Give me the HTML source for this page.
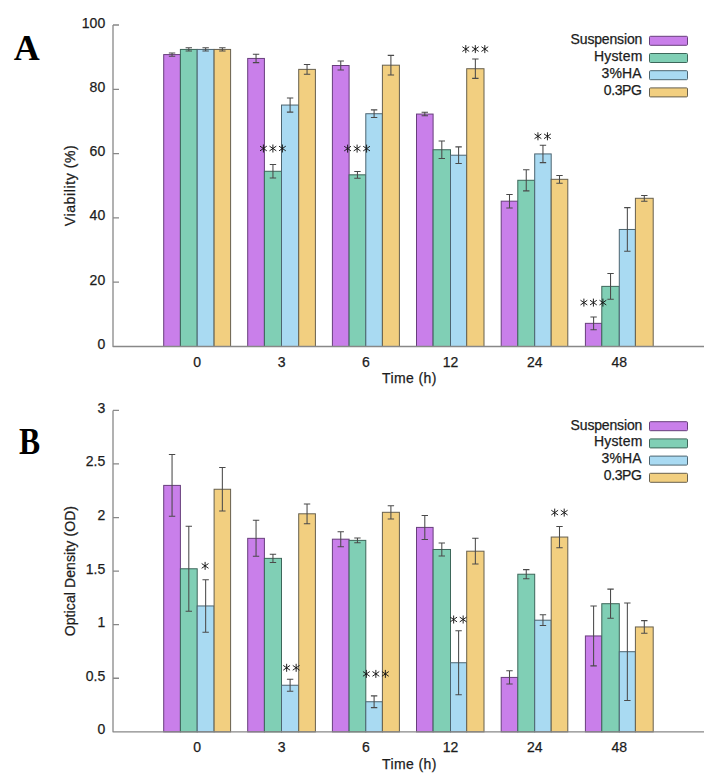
<!DOCTYPE html>
<html><head><meta charset="utf-8"><style>
html,body{margin:0;padding:0;background:#fff;}
svg{display:block;}
.t{font-family:"Liberation Sans",sans-serif;font-size:14px;fill:#1c1c1c;stroke:#1c1c1c;stroke-width:0.25px;}
.L{font-family:"Liberation Serif",serif;font-weight:bold;font-size:36px;fill:#000;}
</style></head><body>
<svg width="719" height="783" viewBox="0 0 719 783">
<rect width="719" height="783" fill="#fff"/>
<rect x="163.7" y="54.58" width="16.7" height="291.92" fill="#c97fea" stroke="#683f7c" stroke-width="1"/>
<rect x="180.4" y="49.43" width="16.8" height="297.07" fill="#80cfb5" stroke="#3d675a" stroke-width="1"/>
<rect x="197.2" y="49.43" width="16.9" height="297.07" fill="#a9daf2" stroke="#4d6571" stroke-width="1"/>
<rect x="214.1" y="49.43" width="16.5" height="297.07" fill="#f2cf80" stroke="#67604e" stroke-width="1"/>
<rect x="247.7" y="58.44" width="16.7" height="288.06" fill="#c97fea" stroke="#683f7c" stroke-width="1"/>
<rect x="264.4" y="171.28" width="17.1" height="175.22" fill="#80cfb5" stroke="#3d675a" stroke-width="1"/>
<rect x="281.5" y="105.05" width="17.2" height="241.45" fill="#a9daf2" stroke="#4d6571" stroke-width="1"/>
<rect x="298.7" y="69.37" width="16.7" height="277.13" fill="#f2cf80" stroke="#67604e" stroke-width="1"/>
<rect x="332.4" y="65.51" width="16.7" height="280.99" fill="#c97fea" stroke="#683f7c" stroke-width="1"/>
<rect x="349.1" y="174.82" width="16.7" height="171.68" fill="#80cfb5" stroke="#3d675a" stroke-width="1"/>
<rect x="365.8" y="113.73" width="16.6" height="232.77" fill="#a9daf2" stroke="#4d6571" stroke-width="1"/>
<rect x="382.4" y="65.19" width="17" height="281.31" fill="#f2cf80" stroke="#67604e" stroke-width="1"/>
<rect x="416.5" y="114.06" width="16.6" height="232.44" fill="#c97fea" stroke="#683f7c" stroke-width="1"/>
<rect x="433.1" y="149.74" width="17.4" height="196.76" fill="#80cfb5" stroke="#3d675a" stroke-width="1"/>
<rect x="450.5" y="155.21" width="16.2" height="191.29" fill="#a9daf2" stroke="#4d6571" stroke-width="1"/>
<rect x="466.7" y="68.72" width="17.3" height="277.78" fill="#f2cf80" stroke="#67604e" stroke-width="1"/>
<rect x="501.2" y="201.18" width="16.6" height="145.32" fill="#c97fea" stroke="#683f7c" stroke-width="1"/>
<rect x="517.8" y="180.28" width="16.9" height="166.22" fill="#80cfb5" stroke="#3d675a" stroke-width="1"/>
<rect x="534.7" y="153.92" width="16.5" height="192.58" fill="#a9daf2" stroke="#4d6571" stroke-width="1"/>
<rect x="551.2" y="179.32" width="16.6" height="167.18" fill="#f2cf80" stroke="#67604e" stroke-width="1"/>
<rect x="585.4" y="323.35" width="16.4" height="23.15" fill="#c97fea" stroke="#683f7c" stroke-width="1"/>
<rect x="601.8" y="286.38" width="17.5" height="60.12" fill="#80cfb5" stroke="#3d675a" stroke-width="1"/>
<rect x="619.3" y="229.47" width="16.1" height="117.03" fill="#a9daf2" stroke="#4d6571" stroke-width="1"/>
<rect x="635.4" y="198.29" width="17.8" height="148.21" fill="#f2cf80" stroke="#67604e" stroke-width="1"/>
<path d="M172.05 52.97V56.19M168.85 52.97H175.25M168.85 56.19H175.25M188.8 47.83V51.04M185.6 47.83H192M185.6 51.04H192M205.65 47.83V51.04M202.45 47.83H208.85M202.45 51.04H208.85M222.35 47.83V51.04M219.15 47.83H225.55M219.15 51.04H225.55M256.05 54.26V62.62M252.85 54.26H259.25M252.85 62.62H259.25M272.95 164.53V178.03M269.75 164.53H276.15M269.75 178.03H276.15M290.1 97.98V112.13M286.9 97.98H293.3M286.9 112.13H293.3M307.05 64.54V74.19M303.85 64.54H310.25M303.85 74.19H310.25M340.75 61.01V70.01M337.55 61.01H343.95M337.55 70.01H343.95M357.45 171.44V178.19M354.25 171.44H360.65M354.25 178.19H360.65M374.1 109.88V117.59M370.9 109.88H377.3M370.9 117.59H377.3M390.9 55.38V74.99M387.7 55.38H394.1M387.7 74.99H394.1M424.8 112.29V115.82M421.6 112.29H428M421.6 115.82H428M441.8 141.06V158.42M438.6 141.06H445M438.6 158.42H445M458.6 146.85V163.57M455.4 146.85H461.8M455.4 163.57H461.8M475.35 59.08V78.37M472.15 59.08H478.55M472.15 78.37H478.55M509.5 194.43V207.93M506.3 194.43H512.7M506.3 207.93H512.7M526.25 169.68V190.89M523.05 169.68H529.45M523.05 190.89H529.45M542.95 145.24V162.6M539.75 145.24H546.15M539.75 162.6H546.15M559.5 175.46V183.18M556.3 175.46H562.7M556.3 183.18H562.7M593.6 316.92V329.78M590.4 316.92H596.8M590.4 329.78H596.8M610.55 273.52V299.24M607.35 273.52H613.75M607.35 299.24H613.75M627.35 207.61V251.34M624.15 207.61H630.55M624.15 251.34H630.55M644.3 195.4V201.18M641.1 195.4H647.5M641.1 201.18H647.5" stroke="#4a4a4a" stroke-width="1.05" fill="none"/>
<path d="M263.4 144.5V152.5M260 146.15L266.8 150.85M260 150.85L266.8 146.15M272.9 144.5V152.5M269.5 146.15L276.3 150.85M269.5 150.85L276.3 146.15M282.4 144.5V152.5M279 146.15L285.8 150.85M279 150.85L285.8 146.15M347.6 144.6V152.6M344.2 146.25L351 150.95M344.2 150.95L351 146.25M357.1 144.6V152.6M353.7 146.25L360.5 150.95M353.7 150.95L360.5 146.25M366.6 144.6V152.6M363.2 146.25L370 150.95M363.2 150.95L370 146.25M465.8 45.1V53.1M462.4 46.75L469.2 51.45M462.4 51.45L469.2 46.75M475.3 45.1V53.1M471.9 46.75L478.7 51.45M471.9 51.45L478.7 46.75M484.8 45.1V53.1M481.4 46.75L488.2 51.45M481.4 51.45L488.2 46.75M537.95 132.3V140.3M534.55 133.95L541.35 138.65M534.55 138.65L541.35 133.95M547.45 132.3V140.3M544.05 133.95L550.85 138.65M544.05 138.65L550.85 133.95M583.9 298.6V306.6M580.5 300.25L587.3 304.95M580.5 304.95L587.3 300.25M593.4 298.6V306.6M590 300.25L596.8 304.95M590 304.95L596.8 300.25M602.9 298.6V306.6M599.5 300.25L606.3 304.95M599.5 304.95L606.3 300.25" stroke="#151515" stroke-width="0.95" fill="none"/>
<path d="M113 25V346.5H704M113 346.5H119M113 282.2H119M113 217.9H119M113 153.6H119M113 89.3H119M113 25H119" stroke="#888" stroke-width="1.3" stroke-linejoin="round" fill="none"/>
<text x="105.2" y="349" text-anchor="end" class="t">0</text>
<text x="105.2" y="284.7" text-anchor="end" class="t">20</text>
<text x="105.2" y="220.4" text-anchor="end" class="t">40</text>
<text x="105.2" y="156.1" text-anchor="end" class="t">60</text>
<text x="105.2" y="91.8" text-anchor="end" class="t">80</text>
<text x="105.2" y="27.5" text-anchor="end" class="t">100</text>
<text x="197.15" y="366.8" text-anchor="middle" class="t">0</text>
<text x="281.58" y="366.8" text-anchor="middle" class="t">3</text>
<text x="366.01" y="366.8" text-anchor="middle" class="t">6</text>
<text x="450.44" y="366.8" text-anchor="middle" class="t">12</text>
<text x="534.87" y="366.8" text-anchor="middle" class="t">24</text>
<text x="619.3" y="366.8" text-anchor="middle" class="t">48</text>
<text x="409.2" y="383.4" text-anchor="middle" textLength="54.2" class="t">Time (h)</text>
<text transform="translate(74.6 185.75) rotate(-90)" text-anchor="middle" textLength="81" class="t">Viability (%)</text>
<rect x="649.5" y="36.3" width="38" height="9" rx="1" fill="#c97fea" stroke="#683f7c" stroke-width="1"/>
<text x="642.3" y="44.1" text-anchor="end" textLength="71.7" class="t">Suspension</text>
<rect x="649.5" y="53.5" width="38" height="9" rx="1" fill="#80cfb5" stroke="#3d675a" stroke-width="1"/>
<text x="642.3" y="61.08" text-anchor="end" textLength="48.3" class="t">Hystem</text>
<rect x="649.5" y="70.7" width="38" height="9" rx="1" fill="#a9daf2" stroke="#4d6571" stroke-width="1"/>
<text x="641.6" y="78.06" text-anchor="end" textLength="40" class="t">3%HA</text>
<rect x="649.5" y="87.9" width="38" height="9" rx="1" fill="#f2cf80" stroke="#67604e" stroke-width="1"/>
<text x="642" y="95.04" text-anchor="end" textLength="38.3" class="t">0.3PG</text>
<rect x="163.7" y="485.4" width="16.7" height="246.45" fill="#c97fea" stroke="#683f7c" stroke-width="1"/>
<rect x="180.4" y="568.77" width="16.8" height="163.08" fill="#80cfb5" stroke="#3d675a" stroke-width="1"/>
<rect x="197.2" y="605.95" width="16.9" height="125.9" fill="#a9daf2" stroke="#4d6571" stroke-width="1"/>
<rect x="214.1" y="489.26" width="16.5" height="242.59" fill="#f2cf80" stroke="#67604e" stroke-width="1"/>
<rect x="247.7" y="538.34" width="16.7" height="193.51" fill="#c97fea" stroke="#683f7c" stroke-width="1"/>
<rect x="264.4" y="558.37" width="17.1" height="173.48" fill="#80cfb5" stroke="#3d675a" stroke-width="1"/>
<rect x="281.5" y="685.24" width="17.2" height="46.61" fill="#a9daf2" stroke="#4d6571" stroke-width="1"/>
<rect x="298.7" y="513.8" width="16.7" height="218.05" fill="#f2cf80" stroke="#67604e" stroke-width="1"/>
<rect x="332.4" y="539.19" width="16.7" height="192.66" fill="#c97fea" stroke="#683f7c" stroke-width="1"/>
<rect x="349.1" y="540.37" width="16.7" height="191.48" fill="#80cfb5" stroke="#3d675a" stroke-width="1"/>
<rect x="365.8" y="701.74" width="16.6" height="30.11" fill="#a9daf2" stroke="#4d6571" stroke-width="1"/>
<rect x="382.4" y="512.3" width="17" height="219.55" fill="#f2cf80" stroke="#67604e" stroke-width="1"/>
<rect x="416.5" y="527.41" width="16.6" height="204.44" fill="#c97fea" stroke="#683f7c" stroke-width="1"/>
<rect x="433.1" y="549.48" width="17.4" height="182.37" fill="#80cfb5" stroke="#3d675a" stroke-width="1"/>
<rect x="450.5" y="662.74" width="16.2" height="69.11" fill="#a9daf2" stroke="#4d6571" stroke-width="1"/>
<rect x="466.7" y="551.2" width="17.3" height="180.65" fill="#f2cf80" stroke="#67604e" stroke-width="1"/>
<rect x="501.2" y="677.42" width="16.6" height="54.43" fill="#c97fea" stroke="#683f7c" stroke-width="1"/>
<rect x="517.8" y="574.23" width="16.9" height="157.62" fill="#80cfb5" stroke="#3d675a" stroke-width="1"/>
<rect x="534.7" y="620.2" width="16.5" height="111.65" fill="#a9daf2" stroke="#4d6571" stroke-width="1"/>
<rect x="551.2" y="537.05" width="16.6" height="194.8" fill="#f2cf80" stroke="#67604e" stroke-width="1"/>
<rect x="585.4" y="635.95" width="16.4" height="95.9" fill="#c97fea" stroke="#683f7c" stroke-width="1"/>
<rect x="601.8" y="603.7" width="17.5" height="128.15" fill="#80cfb5" stroke="#3d675a" stroke-width="1"/>
<rect x="619.3" y="651.7" width="16.1" height="80.15" fill="#a9daf2" stroke="#4d6571" stroke-width="1"/>
<rect x="635.4" y="626.95" width="17.8" height="104.9" fill="#f2cf80" stroke="#67604e" stroke-width="1"/>
<path d="M172.05 454.55V516.26M168.85 454.55H175.25M168.85 516.26H175.25M188.8 526.23V611.31M185.6 526.23H192M185.6 611.31H192M205.65 579.7V632.2M202.45 579.7H208.85M202.45 632.2H208.85M222.35 467.51V511.01M219.15 467.51H225.55M219.15 511.01H225.55M256.05 520.34V556.34M252.85 520.34H259.25M252.85 556.34H259.25M272.95 554.3V562.45M269.75 554.3H276.15M269.75 562.45H276.15M290.1 679.24V691.24M286.9 679.24H293.3M286.9 691.24H293.3M307.05 503.94V523.66M303.85 503.94H310.25M303.85 523.66H310.25M340.75 531.69V546.69M337.55 531.69H343.95M337.55 546.69H343.95M357.45 538.02V542.73M354.25 538.02H360.65M354.25 542.73H360.65M374.1 695.85V707.63M370.9 695.85H377.3M370.9 707.63H377.3M390.9 505.66V518.94M387.7 505.66H394.1M387.7 518.94H394.1M424.8 515.41V539.41M421.6 515.41H428M421.6 539.41H428M441.8 543.05V555.91M438.6 543.05H445M438.6 555.91H445M458.6 630.81V694.67M455.4 630.81H461.8M455.4 694.67H461.8M475.35 538.34V564.05M472.15 538.34H478.55M472.15 564.05H478.55M509.5 670.77V684.06M506.3 670.77H512.7M506.3 684.06H512.7M526.25 569.62V578.84M523.05 569.62H529.45M523.05 578.84H529.45M542.95 614.84V625.56M539.75 614.84H546.15M539.75 625.56H546.15M559.5 526.44V547.66M556.3 526.44H562.7M556.3 547.66H562.7M593.6 606.06V665.85M590.4 606.06H596.8M590.4 665.85H596.8M610.55 589.13V618.27M607.35 589.13H613.75M607.35 618.27H613.75M627.35 602.95V700.46M624.15 602.95H630.55M624.15 700.46H630.55M644.3 620.63V633.27M641.1 620.63H647.5M641.1 633.27H647.5" stroke="#4a4a4a" stroke-width="1.05" fill="none"/>
<path d="M205.1 561.9V569.9M201.7 563.55L208.5 568.25M201.7 568.25L208.5 563.55M286.65 663.8V671.8M283.25 665.45L290.05 670.15M283.25 670.15L290.05 665.45M296.15 663.8V671.8M292.75 665.45L299.55 670.15M292.75 670.15L299.55 665.45M366.35 669.9V677.9M362.95 671.55L369.75 676.25M362.95 676.25L369.75 671.55M375.85 669.9V677.9M372.45 671.55L379.25 676.25M372.45 676.25L379.25 671.55M385.35 669.9V677.9M381.95 671.55L388.75 676.25M381.95 676.25L388.75 671.55M453.65 615.5V623.5M450.25 617.15L457.05 621.85M450.25 621.85L457.05 617.15M463.15 615.5V623.5M459.75 617.15L466.55 621.85M459.75 621.85L466.55 617.15M554.7 508.6V516.6M551.3 510.25L558.1 514.95M551.3 514.95L558.1 510.25M564.2 508.6V516.6M560.8 510.25L567.6 514.95M560.8 514.95L567.6 510.25" stroke="#151515" stroke-width="0.95" fill="none"/>
<path d="M113 410.4V731.85H704M113 731.85H119M113 678.27H119M113 624.7H119M113 571.12H119M113 517.55H119M113 463.97H119M113 410.4H119" stroke="#888" stroke-width="1.3" stroke-linejoin="round" fill="none"/>
<text x="105.2" y="734.35" text-anchor="end" class="t">0</text>
<text x="105.2" y="680.77" text-anchor="end" class="t">0.5</text>
<text x="105.2" y="627.2" text-anchor="end" class="t">1</text>
<text x="105.2" y="573.62" text-anchor="end" class="t">1.5</text>
<text x="105.2" y="520.05" text-anchor="end" class="t">2</text>
<text x="105.2" y="466.47" text-anchor="end" class="t">2.5</text>
<text x="105.2" y="412.9" text-anchor="end" class="t">3</text>
<text x="197.15" y="752.15" text-anchor="middle" class="t">0</text>
<text x="281.58" y="752.15" text-anchor="middle" class="t">3</text>
<text x="366.01" y="752.15" text-anchor="middle" class="t">6</text>
<text x="450.44" y="752.15" text-anchor="middle" class="t">12</text>
<text x="534.87" y="752.15" text-anchor="middle" class="t">24</text>
<text x="619.3" y="752.15" text-anchor="middle" class="t">48</text>
<text x="409.2" y="768.75" text-anchor="middle" textLength="54.2" class="t">Time (h)</text>
<text transform="translate(74.6 571.12) rotate(-90)" text-anchor="middle" textLength="130.3" class="t">Optical Density (OD)</text>
<rect x="649.5" y="421.7" width="38" height="9" rx="1" fill="#c97fea" stroke="#683f7c" stroke-width="1"/>
<text x="642.3" y="429.5" text-anchor="end" textLength="71.7" class="t">Suspension</text>
<rect x="649.5" y="438.9" width="38" height="9" rx="1" fill="#80cfb5" stroke="#3d675a" stroke-width="1"/>
<text x="642.3" y="446.48" text-anchor="end" textLength="48.3" class="t">Hystem</text>
<rect x="649.5" y="456.1" width="38" height="9" rx="1" fill="#a9daf2" stroke="#4d6571" stroke-width="1"/>
<text x="641.6" y="463.46" text-anchor="end" textLength="40" class="t">3%HA</text>
<rect x="649.5" y="473.3" width="38" height="9" rx="1" fill="#f2cf80" stroke="#67604e" stroke-width="1"/>
<text x="642" y="480.44" text-anchor="end" textLength="38.3" class="t">0.3PG</text>
<text x="13.8" y="60" class="L">A</text>
<text transform="translate(19 454) scale(0.88 1.04)" class="L">B</text>
</svg>
</body></html>
